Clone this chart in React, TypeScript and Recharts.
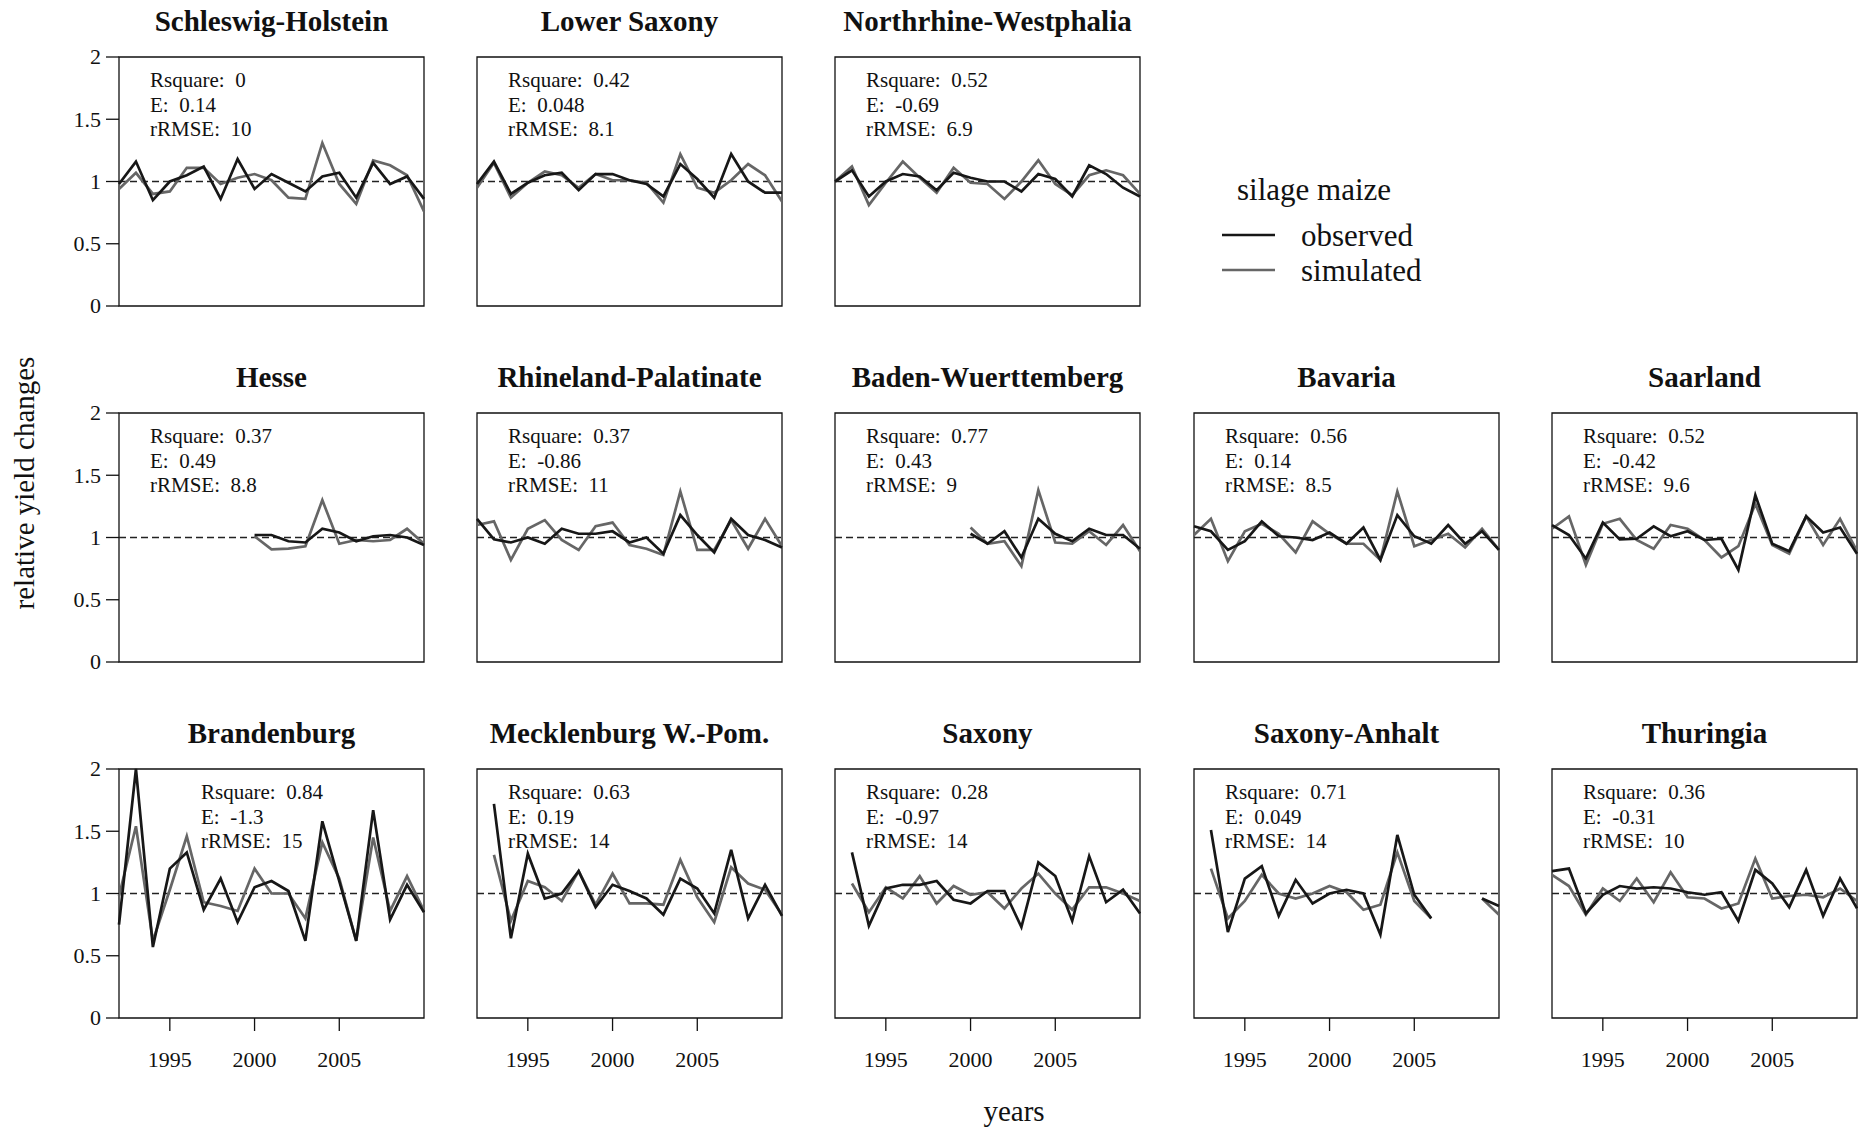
import { LineChart, Line, XAxis, YAxis, ReferenceLine, ReferenceArea } from "recharts";

const years = [1992, 1993, 1994, 1995, 1996, 1997, 1998, 1999, 2000, 2001, 2002, 2003, 2004, 2005, 2006, 2007, 2008, 2009, 2010];
const xTicks = [1995, 2000, 2005];
const yTicks = [0, 0.5, 1, 1.5, 2];

const N = null;

const shObs = [0.98, 1.16, 0.85, 1.0, 1.05, 1.12, 0.86, 1.18, 0.94, 1.06, 0.99, 0.92, 1.04, 1.07, 0.87, 1.15, 0.98, 1.04, 0.86];
const shSim = [0.94, 1.07, 0.9, 0.92, 1.11, 1.11, 0.98, 1.03, 1.06, 1.01, 0.87, 0.86, 1.31, 0.98, 0.82, 1.17, 1.13, 1.05, 0.76];
const lsObs = [0.98, 1.16, 0.9, 0.99, 1.05, 1.07, 0.93, 1.06, 1.06, 1.01, 0.98, 0.88, 1.14, 1.02, 0.87, 1.22, 1.0, 0.91, 0.91];
const lsSim = [0.95, 1.15, 0.87, 0.99, 1.08, 1.05, 0.95, 1.06, 1.01, 1.01, 0.99, 0.83, 1.22, 0.95, 0.91, 1.01, 1.14, 1.05, 0.84];
const nrwObs = [1.0, 1.09, 0.88, 1.0, 1.06, 1.04, 0.93, 1.07, 1.03, 1.0, 1.0, 0.92, 1.06, 1.02, 0.88, 1.13, 1.06, 0.95, 0.88];
const nrwSim = [1.0, 1.12, 0.81, 0.99, 1.16, 1.03, 0.91, 1.11, 0.99, 0.98, 0.86, 1.0, 1.17, 0.98, 0.89, 1.05, 1.09, 1.05, 0.9];
const heObs = [N, N, N, N, N, N, N, N, 1.02, 1.02, 0.97, 0.96, 1.07, 1.04, 0.97, 1.01, 1.02, 1.0, 0.94];
const heSim = [N, N, N, N, N, N, N, N, 1.01, 0.905, 0.91, 0.93, 1.3, 0.95, 0.98, 0.97, 0.98, 1.07, 0.95];
const rpObs = [1.15, 0.985, 0.96, 1.0, 0.95, 1.07, 1.03, 1.03, 1.05, 0.96, 1.0, 0.87, 1.18, 1.02, 0.88, 1.15, 1.02, 0.98, 0.92];
const rpSim = [1.1, 1.13, 0.82, 1.07, 1.14, 0.98, 0.9, 1.09, 1.12, 0.94, 0.91, 0.86, 1.37, 0.9, 0.9, 1.14, 0.91, 1.15, 0.93];
const bwObs = [N, N, N, N, N, N, N, N, 1.03, 0.95, 1.05, 0.84, 1.15, 1.03, 0.97, 1.07, 1.02, 1.02, 0.91];
const bwSim = [N, N, N, N, N, N, N, N, 1.08, 0.95, 0.97, 0.77, 1.38, 0.96, 0.95, 1.05, 0.94, 1.1, 0.89];
const byObs = [1.09, 1.05, 0.9, 0.97, 1.13, 1.01, 1.0, 0.98, 1.04, 0.95, 1.08, 0.82, 1.18, 1.01, 0.95, 1.1, 0.95, 1.05, 0.9];
const bySim = [1.02, 1.15, 0.81, 1.05, 1.11, 1.03, 0.88, 1.13, 1.03, 0.95, 0.95, 0.82, 1.37, 0.93, 0.98, 1.03, 0.92, 1.07, 0.9];
const slObs = [1.1, 1.02, 0.83, 1.12, 0.985, 0.99, 1.09, 1.01, 1.05, 0.98, 0.99, 0.74, 1.34, 0.95, 0.89, 1.17, 1.04, 1.08, 0.87];
const slSim = [1.07, 1.17, 0.78, 1.11, 1.15, 0.98, 0.91, 1.1, 1.07, 0.98, 0.84, 0.93, 1.27, 0.94, 0.87, 1.17, 0.94, 1.15, 0.89];
const bbObs = [0.75, 2.0, 0.57, 1.2, 1.33, 0.87, 1.12, 0.77, 1.05, 1.1, 1.02, 0.62, 1.58, 1.1, 0.62, 1.67, 0.79, 1.07, 0.85];
const bbSim = [0.98, 1.54, 0.62, 1.03, 1.46, 0.93, 0.9, 0.86, 1.2, 1.0, 1.0, 0.8, 1.41, 1.12, 0.62, 1.45, 0.86, 1.14, 0.86];
const mvObs = [N, 1.72, 0.64, 1.32, 0.96, 1.0, 1.18, 0.89, 1.07, 1.02, 0.96, 0.83, 1.12, 1.04, 0.84, 1.35, 0.8, 1.07, 0.82];
const mvSim = [N, 1.31, 0.78, 1.1, 1.05, 0.94, 1.18, 0.91, 1.16, 0.92, 0.92, 0.91, 1.27, 0.97, 0.77, 1.21, 1.08, 1.03, 0.83];
const snObs = [N, 1.33, 0.74, 1.04, 1.07, 1.07, 1.1, 0.95, 0.92, 1.02, 1.02, 0.73, 1.25, 1.14, 0.78, 1.3, 0.93, 1.03, 0.84];
const snSim = [N, 1.08, 0.85, 1.05, 0.96, 1.14, 0.92, 1.06, 0.99, 1.01, 0.88, 1.04, 1.16, 1.0, 0.87, 1.05, 1.05, 1.0, 0.94];
const stObs = [N, 1.51, 0.69, 1.12, 1.22, 0.82, 1.11, 0.92, 1.0, 1.03, 1.0, 0.67, 1.47, 0.99, 0.8, N, N, 0.96, 0.9];
const stSim = [N, 1.2, 0.8, 0.94, 1.15, 1.0, 0.96, 1.0, 1.06, 1.01, 0.87, 0.91, 1.33, 0.94, 0.8, N, N, 0.96, 0.83];
const thObs = [1.18, 1.2, 0.84, 0.99, 1.06, 1.04, 1.05, 1.04, 1.01, 0.99, 1.01, 0.78, 1.19, 1.08, 0.89, 1.19, 0.82, 1.12, 0.88];
const thSim = [1.15, 1.06, 0.83, 1.04, 0.94, 1.12, 0.93, 1.17, 0.97, 0.96, 0.88, 0.92, 1.28, 0.96, 0.98, 0.99, 0.97, 1.04, 0.94];

type Panel = {
  name: string;
  obs: (number | null)[];
  sim: (number | null)[];
  stats: string[];
  row: number;
  col: number;
  statsDx?: number;
};

const panels: Panel[] = [
  { name: "Schleswig-Holstein", obs: shObs, sim: shSim, stats: ["0", "0.14", "10"], row: 0, col: 0 },
  { name: "Lower Saxony", obs: lsObs, sim: lsSim, stats: ["0.42", "0.048", "8.1"], row: 0, col: 1 },
  { name: "Northrhine-Westphalia", obs: nrwObs, sim: nrwSim, stats: ["0.52", "-0.69", "6.9"], row: 0, col: 2 },
  { name: "Hesse", obs: heObs, sim: heSim, stats: ["0.37", "0.49", "8.8"], row: 1, col: 0 },
  { name: "Rhineland-Palatinate", obs: rpObs, sim: rpSim, stats: ["0.37", "-0.86", "11"], row: 1, col: 1 },
  { name: "Baden-Wuerttemberg", obs: bwObs, sim: bwSim, stats: ["0.77", "0.43", "9"], row: 1, col: 2 },
  { name: "Bavaria", obs: byObs, sim: bySim, stats: ["0.56", "0.14", "8.5"], row: 1, col: 3 },
  { name: "Saarland", obs: slObs, sim: slSim, stats: ["0.52", "-0.42", "9.6"], row: 1, col: 4 },
  { name: "Brandenburg", obs: bbObs, sim: bbSim, stats: ["0.84", "-1.3", "15"], row: 2, col: 0, statsDx: 82 },
  { name: "Mecklenburg W.-Pom.", obs: mvObs, sim: mvSim, stats: ["0.63", "0.19", "14"], row: 2, col: 1 },
  { name: "Saxony", obs: snObs, sim: snSim, stats: ["0.28", "-0.97", "14"], row: 2, col: 2 },
  { name: "Saxony-Anhalt", obs: stObs, sim: stSim, stats: ["0.71", "0.049", "14"], row: 2, col: 3 },
  { name: "Thuringia", obs: thObs, sim: thSim, stats: ["0.36", "-0.31", "10"], row: 2, col: 4 },
];

const colLeft = [119, 477, 835, 1194, 1552];
const rowTop = [57, 413, 769];
const plotW = 305;
const plotH = 249;
const yAxisW = 60;
const topPad = 16;
const FONT = "'Liberation Serif', 'Times New Roman', serif";
const OBS = "#171717";
const SIM = "#666666";
const INK = "#111";

// custom tick text so the serif font and size are applied for sure
function XTick(props: any) {
  return (
    <text x={props.x} y={props.y} dy="0.71em" textAnchor="middle" fontFamily={FONT} fontSize={22} fill={INK}>
      {props.payload.value}
    </text>
  );
}

function YTick(props: any) {
  return (
    <text x={props.x} y={props.y} dy="0.34em" textAnchor="end" fontFamily={FONT} fontSize={22} fill={INK}>
      {props.payload.value}
    </text>
  );
}

function PanelChart({ p }: { p: Panel }) {
  const data = years.map((y, i) => ({ year: y, obs: p.obs[i], sim: p.sim[i] }));
  const showX = p.row === 2;
  const showY = p.col === 0;
  const xH = showX ? 60 : 20;
  return (
    <div style={{ position: "absolute", left: colLeft[p.col] - yAxisW, top: rowTop[p.row] - topPad }}>
      <LineChart
        width={yAxisW + plotW + 6}
        height={topPad + plotH + xH}
        data={data}
        margin={{ top: topPad, right: 6, left: 0, bottom: 0 }}
      >
        <XAxis
          dataKey="year"
          type="number"
          domain={[1992, 2010]}
          ticks={xTicks}
          interval={0}
          axisLine={false}
          tickSize={13}
          tickMargin={20}
          height={xH}
          tickLine={{ stroke: INK, strokeWidth: 1.3 }}
          tick={showX ? <XTick /> : false}
        />
        <YAxis
          type="number"
          domain={[0, 2]}
          ticks={yTicks}
          interval={0}
          axisLine={false}
          tickSize={13}
          tickMargin={5}
          width={yAxisW}
          tickLine={{ stroke: INK, strokeWidth: 1.3 }}
          tick={showY ? <YTick /> : false}
        />
        <ReferenceArea x1={1992} x2={2010} y1={0} y2={2} fill="none" stroke={INK} strokeWidth={1.3} fillOpacity={0} />
        <ReferenceLine y={1} stroke="#222" strokeDasharray="7 4" strokeWidth={1.4} />
        <Line type="linear" dataKey="sim" stroke={SIM} strokeWidth={2.7} dot={false} isAnimationActive={false} connectNulls={false} />
        <Line type="linear" dataKey="obs" stroke={OBS} strokeWidth={2.7} dot={false} isAnimationActive={false} connectNulls={false} />
      </LineChart>
    </div>
  );
}

export default function App() {
  return (
    <div style={{ position: "absolute", left: 0, top: 0, width: 1860, height: 1129, background: "#fff", overflow: "hidden" }}>
      {panels.map((p) => (
        <PanelChart key={p.name} p={p} />
      ))}
      <svg width={1860} height={1129} style={{ position: "absolute", left: 0, top: 0, pointerEvents: "none" }}>
        {panels.map((p) => {
          const x0 = colLeft[p.col];
          const y0 = rowTop[p.row];
          const tx = x0 + (p.statsDx ?? 31);
          return (
            <g key={p.name} fontFamily={FONT} fill={INK}>
              <text x={x0 + plotW / 2} y={y0 - 26} textAnchor="middle" fontWeight="bold" fontSize={29}>
                {p.name}
              </text>
              <text x={tx} y={y0 + 30} fontSize={21} style={{ whiteSpace: "pre" }}>{`Rsquare:  ${p.stats[0]}`}</text>
              <text x={tx} y={y0 + 54.5} fontSize={21} style={{ whiteSpace: "pre" }}>{`E:  ${p.stats[1]}`}</text>
              <text x={tx} y={y0 + 79} fontSize={21} style={{ whiteSpace: "pre" }}>{`rRMSE:  ${p.stats[2]}`}</text>
            </g>
          );
        })}
        <g fontFamily={FONT} fill={INK}>
          <text x={1014} y={1121} textAnchor="middle" fontSize={29}>years</text>
          <text x={0} y={0} textAnchor="middle" fontSize={29} transform="translate(34 483) rotate(-90)">
            relative yield changes
          </text>
          <text x={1237} y={200} fontSize={31}>silage maize</text>
          <line x1={1222} x2={1275} y1={235} y2={235} stroke={OBS} strokeWidth={2.6} />
          <line x1={1222} x2={1275} y1={270} y2={270} stroke={SIM} strokeWidth={2.6} />
          <text x={1301} y={246} fontSize={31}>observed</text>
          <text x={1301} y={281} fontSize={31}>simulated</text>
        </g>
      </svg>
    </div>
  );
}
